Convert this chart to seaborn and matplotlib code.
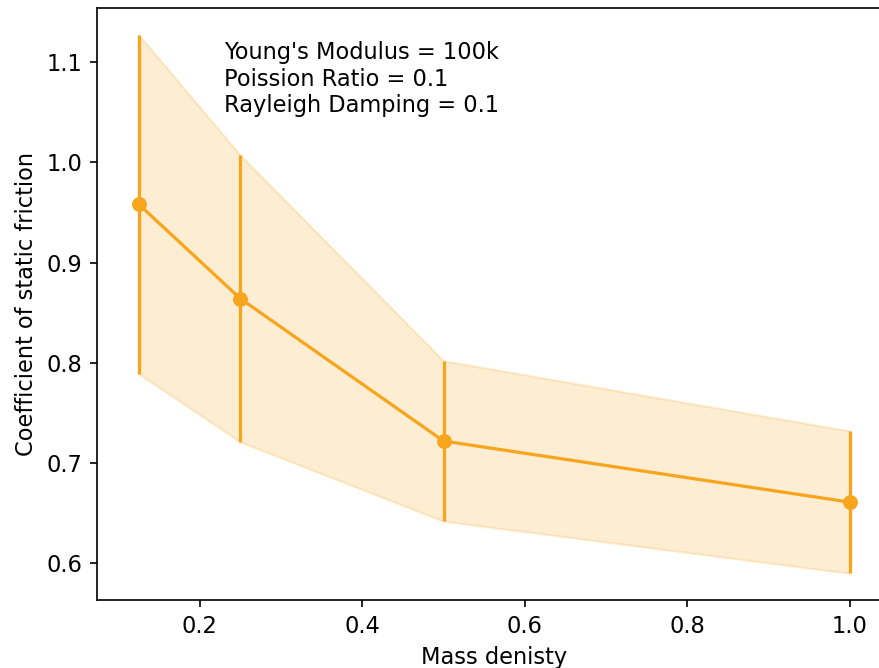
import matplotlib
matplotlib.use("Agg")
import matplotlib.pyplot as plt
import seaborn as sns
import pandas as pd

# Mass density samples and measured static friction (mean ± std)
mass_density = [0.125, 0.25, 0.5, 1.0]
friction_mean = [0.958, 0.864, 0.722, 0.661]
friction_std = [0.169, 0.143, 0.080, 0.071]

df = pd.DataFrame({"mass": mass_density, "mu": friction_mean, "sd": friction_std})
lower = df["mu"] - df["sd"]
upper = df["mu"] + df["sd"]

plt.rcParams["font.size"] = 10.8

fig = plt.figure(figsize=(879 / 150, 668 / 150), dpi=150)
ax = fig.add_axes([97 / 879, 68 / 668, (892 - 97) / 879, (600 - 8) / 668])

color = "#f8a51e"
ax.fill_between(df["mass"], lower, upper, color=color, alpha=0.2)
ax.errorbar(df["mass"], df["mu"], yerr=df["sd"], fmt="none", ecolor=color, elinewidth=1.55)
sns.lineplot(data=df, x="mass", y="mu", ax=ax, color=color, marker="o",
             markersize=6.4, markeredgecolor=color, linewidth=1.55)

ax.text(0.23, 1.05, "Young's Modulus = 100k\nPoission Ratio = 0.1\nRayleigh Damping = 0.1")

ax.set_xlim(0.0735, 1.052)
ax.set_ylim(0.5634, 1.1539)
ax.set_xticks([0.2, 0.4, 0.6, 0.8, 1.0])
ax.set_yticks([0.6, 0.7, 0.8, 0.9, 1.0, 1.1])
ax.set_xlabel("Mass denisty")
ax.set_ylabel("Coefficient of static friction")

fig.savefig("out.png", dpi=150)
